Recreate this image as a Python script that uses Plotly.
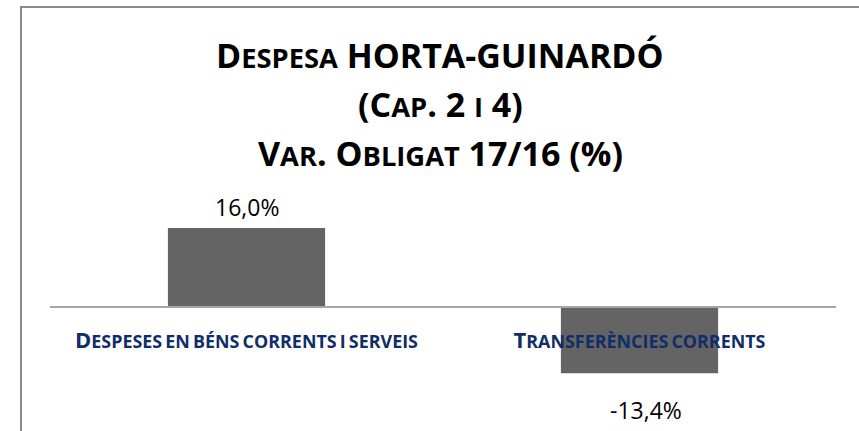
import plotly.graph_objects as go

# Data
categories = ["Despeses en béns corrents i serveis", "Transferències corrents"]
variation_pct = [16.0, -13.4]

# Small-caps label text (first capital full size, rest reduced)
def small_caps(text, big, small):
    out = []
    words = text.split(" ")
    first = True
    for w in words:
        if first and w:
            out.append(f"<span style='font-size:{big}px'>{w[0].upper()}</span>"
                       f"<span style='font-size:{small}px'>{w[1:].upper()}</span>")
            first = False
        else:
            out.append(f"<span style='font-size:{small}px'>{w.upper()}</span>")
    return " ".join(out)

FONT = "Open Sans"
BAR_COLOR = "#646464"
LABEL_COLOR = "#0F2D69"

W, H = 859, 431
ML, MR, MT, MB = 50, 23, 190, 6
PW, PH = W - ML - MR, H - MT - MB
ZERO_Y = 307            # pixel row of the zero line
PX_PER_UNIT = 4.9375    # vertical scale
y_top = (ZERO_Y - MT) / PX_PER_UNIT
y_bot = -(H - MB - ZERO_Y) / PX_PER_UNIT

x_idx = list(range(len(categories)))

fig = go.Figure()
fig.add_trace(go.Bar(
    x=x_idx, y=variation_pct, width=0.4,
    marker=dict(color=BAR_COLOR, line=dict(width=0)),
    hoverinfo="skip",
))

tick_text = [small_caps(c, 22, 17.9) for c in categories]

fig.update_layout(
    width=W, height=H,
    margin=dict(l=ML, r=MR, t=MT, b=MB),
    paper_bgcolor="white", plot_bgcolor="white",
    showlegend=False,
    font=dict(family=FONT, color="black"),
    xaxis=dict(
        range=[-0.5, len(categories) - 0.5],
        tickmode="array", tickvals=x_idx, ticktext=tick_text,
        tickfont=dict(family=FONT, color=LABEL_COLOR, weight="bold"),
        ticks="", ticklabelstandoff=26,
        showline=True, linecolor="#A6A6A6", linewidth=1.5,
        anchor="free", position=(H - MB - ZERO_Y) / PH,
        showgrid=False, zeroline=False, fixedrange=True,
    ),
    yaxis=dict(
        range=[y_bot, y_top], visible=False, showgrid=False,
        zeroline=False, fixedrange=True,
    ),
)

# Value labels
for i, v in enumerate(variation_pct):
    txt = f"{v:.1f}%".replace(".", ",")
    fig.add_annotation(
        x=i, y=v, xref="x", yref="y", text=txt, showarrow=False,
        font=dict(family=FONT, size=23, color="black"),
        yanchor="middle", yshift=21 if v >= 0 else -37,
        xshift=0 if v >= 0 else 6,
    )

# Title, three lines
S = 27.3
title_lines = [
    f"D<span style='font-size:{S}px'>ESPESA</span> HORTA-GUINARDÓ",
    f"(C<span style='font-size:{S}px'>AP</span>. 2 <span style='font-size:{S}px'>I</span> 4)",
    f"V<span style='font-size:{S}px'>AR</span>. O<span style='font-size:{S}px'>BLIGAT</span> 17/16 (%)",
]
title_centers = [55, 104, 153]
for line, yc in zip(title_lines, title_centers):
    fig.add_annotation(
        x=(440 - ML) / PW, y=(H - MB - yc) / PH, xref="paper", yref="paper",
        text=f"<b>{line}</b>", showarrow=False,
        font=dict(family=FONT, size=34, color="black"),
        xanchor="center", yanchor="middle",
    )

# Chart frame
fig.add_shape(
    type="rect", xref="paper", yref="paper",
    x0=(21 - ML) / PW, x1=(W + 10 - ML) / PW,
    y0=(H - MB - (H + 10)) / PH, y1=(H - MB - 7) / PH,
    line=dict(color="#898989", width=2), fillcolor="rgba(0,0,0,0)",
)

fig.write_html("out.html")
